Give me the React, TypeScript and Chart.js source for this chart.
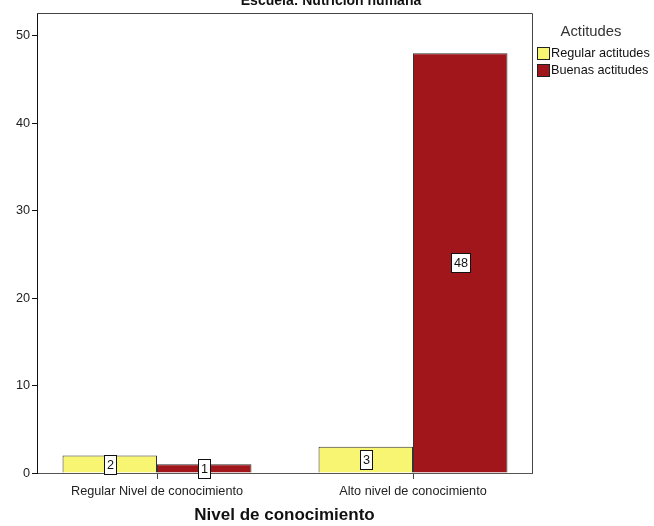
import React, { useEffect, useRef } from "react";
import { Chart, registerables } from "chart.js";

Chart.register(...registerables);

const categories = ["Regular Nivel de conocimiento", "Alto nivel de conocimiento"];
const seriesNames = ["Regular actitudes", "Buenas actitudes"];
const regularValues = [2, 3];
const buenasValues = [1, 48];
const yTicks = [0, 10, 20, 30, 40, 50];
const chartTitle = "Escuela: Nutrición humana";
const xTitle = "Nivel de conocimiento";
const legendTitle = "Actitudes";
const seriesColors = ["#F8F572", "#A1161B"];

const FONT = "Arial, 'Liberation Sans', sans-serif";

const decorPlugin = {
  id: "decor",
  afterDatasetsDraw(chart: any) {
    const ctx = chart.ctx;
    ctx.save();
    chart.data.datasets.forEach((ds: any, di: number) => {
      const meta = chart.getDatasetMeta(di);
      meta.data.forEach((el: any, i: number) => {
        const v = ds.data[i].y;
        const txt = String(v);
        ctx.font = `12.7px ${FONT}`;
        const w = Math.round(ctx.measureText(txt).width + 5);
        const h = 19;
        const cx = el.x;
        const cy = (el.y + el.base) / 2;
        const x0 = Math.round(cx - w / 2) + 0.5;
        const y0 = Math.round(cy - h / 2) + 0.5;
        ctx.fillStyle = "#ffffff";
        ctx.fillRect(x0, y0, w, h);
        ctx.strokeStyle = "#111";
        ctx.lineWidth = 1;
        ctx.strokeRect(x0, y0, w, h);
        ctx.fillStyle = "#111";
        ctx.textAlign = "center";
        ctx.textBaseline = "middle";
        ctx.fillText(txt, x0 + w / 2, y0 + h / 2 + 0.5);
      });
    });
    ctx.restore();
  },
  afterDraw(chart: any) {
    const ctx = chart.ctx;
    const a = chart.chartArea;
    ctx.save();
    // frame top and right
    ctx.strokeStyle = "#444";
    ctx.lineWidth = 1;
    ctx.beginPath();
    ctx.moveTo(a.left, Math.round(a.top) + 0.5);
    ctx.lineTo(Math.round(a.right) + 0.5, Math.round(a.top) + 0.5);
    ctx.lineTo(Math.round(a.right) + 0.5, a.bottom);
    ctx.stroke();
    // chart title
    ctx.fillStyle = "#111";
    ctx.font = `bold 14px ${FONT}`;
    ctx.textAlign = "center";
    ctx.textBaseline = "alphabetic";
    ctx.fillText(chartTitle, 331, 5);
    // legend
    ctx.font = `14.8px ${FONT}`;
    ctx.fillStyle = "#333";
    ctx.textBaseline = "middle";
    ctx.fillText(legendTitle, 591, 32);
    ctx.textAlign = "left";
    chart.data.datasets.forEach((ds: any, di: number) => {
      const y = 47 + di * 17;
      ctx.fillStyle = ds.backgroundColor;
      ctx.fillRect(537.5, y + 0.5, 12, 12);
      ctx.strokeStyle = "#222";
      ctx.strokeRect(537.5, y + 0.5, 12, 12);
      ctx.fillStyle = "#111";
      ctx.font = `12.7px ${FONT}`;
      ctx.fillText(ds.label, 551, y + 6.5);
    });
    ctx.restore();
  },
};

export default function App() {
  const ref = useRef<HTMLCanvasElement | null>(null);
  useEffect(() => {
    if (!ref.current) return;
    const chart = new Chart(ref.current, {
      type: "bar",
      data: {
        datasets: [
          {
            label: seriesNames[0],
            data: regularValues.map((v, i) => ({ x: i, y: v })),
            backgroundColor: seriesColors[0],
            borderColor: "#333",
            borderWidth: 1,
            barPercentage: 1,
            categoryPercentage: 0.738,
          },
          {
            label: seriesNames[1],
            data: buenasValues.map((v, i) => ({ x: i, y: v })),
            backgroundColor: seriesColors[1],
            borderColor: "#333",
            borderWidth: 1,
            barPercentage: 1,
            categoryPercentage: 0.738,
          },
        ] as any,
      },
      options: {
        animation: false,
        responsive: false,
        devicePixelRatio: 1,
        layout: { padding: { top: 13, right: 122, bottom: 0, left: 0 } },
        plugins: {
          legend: { display: false },
          tooltip: { enabled: false },
          title: { display: false },
        },
        scales: {
          x: {
            type: "linear",
            min: -0.46875,
            max: 1.4648,
            offset: false,
            afterBuildTicks: (scale: any) => {
              scale.ticks = categories.map((_, i) => ({ value: i }));
            },
            afterFit: (scale: any) => {
              scale.height = 53;
            },
            ticks: {
              callback: (_v: any, i: number) => categories[i],
              font: { family: FONT, size: 12.7 },
              color: "#222",
              padding: 5,
              maxRotation: 0,
              autoSkip: false,
            },
            grid: {
              display: true,
              offset: false,
              drawOnChartArea: false,
              drawTicks: true,
              tickLength: 6,
              color: "#444",
            },
            border: { display: true, color: "#555", width: 1 },
            title: {
              display: true,
              text: xTitle,
              font: { family: FONT, size: 17, weight: "bold" },
              color: "#111",
              padding: { top: 0, bottom: 0 },
            },
          },
          y: {
            type: "linear",
            min: 0,
            max: 52.6,
            afterBuildTicks: (scale: any) => {
              scale.ticks = yTicks.map((v) => ({ value: v }));
            },
            afterFit: (scale: any) => {
              scale.width = 37;
            },
            ticks: {
              font: { family: FONT, size: 12.7 },
              color: "#222",
              padding: 2,
            },
            grid: {
              display: true,
              drawOnChartArea: false,
              drawTicks: true,
              tickLength: 5,
              color: "#111",
            },
            border: { display: true, color: "#111", width: 1 },
          },
        },
      } as any,
      plugins: [decorPlugin],
    });
    return () => chart.destroy();
  }, []);
  return (
    <div style={{ position: "absolute", left: 0, top: 0, width: 654, height: 526 }}>
      <canvas ref={ref} width={654} height={526} style={{ display: "block" }} />
    </div>
  );
}
